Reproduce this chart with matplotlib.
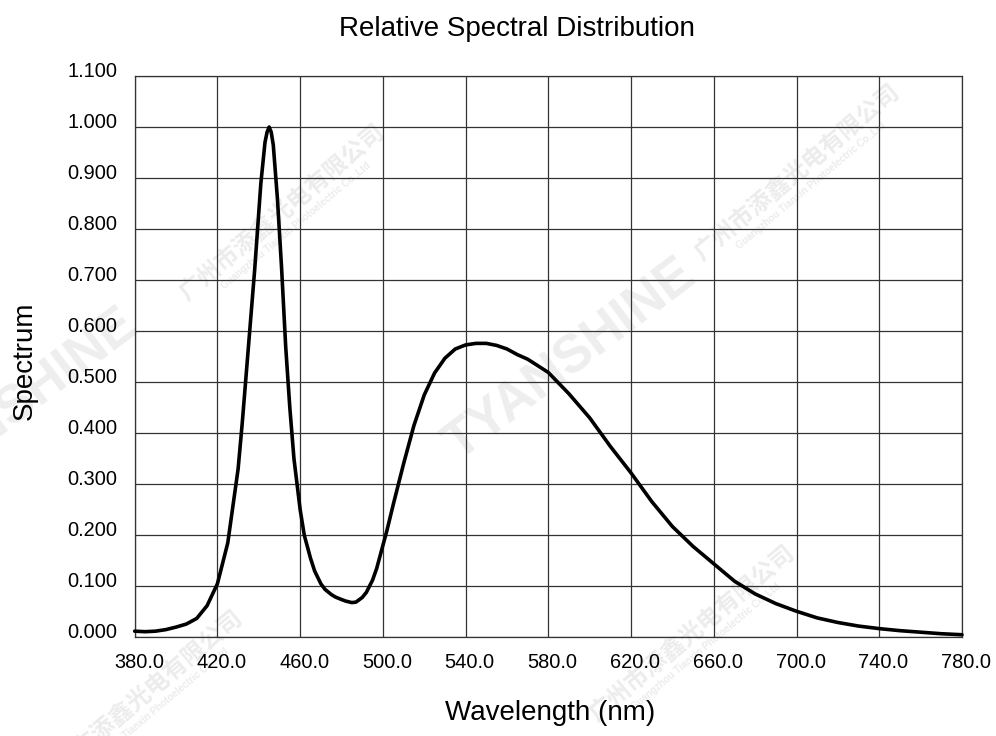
import matplotlib
matplotlib.use("Agg")
import matplotlib.pyplot as plt
from matplotlib.transforms import ScaledTranslation

# ---- data ----
wavelength = [380, 385, 390, 395, 400, 405, 410, 415, 420, 425, 430, 432, 435, 438,
              441, 443, 444, 445, 446, 447, 449, 451, 453, 455, 457, 460, 462, 465,
              467, 470, 472, 475, 477, 480, 482, 485, 487, 490, 492, 495, 497, 500,
              502, 505, 510, 515, 520, 525, 530, 535, 540, 545, 550, 555, 560, 565,
              570, 575, 580, 590, 600, 610, 620, 630, 640, 650, 660, 670, 680, 690,
              700, 710, 720, 730, 740, 750, 760, 770, 780]
spectrum = [0.012, 0.011, 0.012, 0.015, 0.020, 0.026, 0.037, 0.062, 0.105, 0.185,
            0.330, 0.420, 0.570, 0.720, 0.890, 0.970, 0.990, 1.000, 0.990, 0.965,
            0.860, 0.725, 0.570, 0.450, 0.350, 0.250, 0.200, 0.155, 0.130, 0.105,
            0.094, 0.084, 0.079, 0.074, 0.071, 0.068, 0.069, 0.078, 0.088, 0.112,
            0.135, 0.180, 0.210, 0.260, 0.340, 0.415, 0.475, 0.518, 0.547, 0.565,
            0.573, 0.576, 0.576, 0.572, 0.565, 0.554, 0.545, 0.532, 0.519, 0.477,
            0.430, 0.374, 0.322, 0.266, 0.217, 0.178, 0.144, 0.110, 0.085, 0.066,
            0.051, 0.038, 0.029, 0.022, 0.017, 0.013, 0.010, 0.007, 0.005]
x_ticks = [380, 420, 460, 500, 540, 580, 620, 660, 700, 740, 780]
y_ticks = [0.0, 0.1, 0.2, 0.3, 0.4, 0.5, 0.6, 0.7, 0.8, 0.9, 1.0, 1.1]
title = "Relative Spectral Distribution"
x_label = "Wavelength (nm)"
y_label = "Spectrum"
wm_brand = "TYANSHINE"
wm_cn = "广州市添鑫光电有限公司"
wm_en = "Guangzhou Tianxin Photoelectric Co.,Ltd"

W, H = 996, 736
plt.rcParams['font.family'] = ['Liberation Sans', 'DejaVu Sans']
fig = plt.figure(figsize=(W / 100, H / 100), dpi=100)
ax = fig.add_axes([134.7 / W, 1 - 637.3 / H, (962 - 134.7) / W, (637.3 - 76) / H])
ax.set_zorder(1)
ax.patch.set_alpha(0)

def px(x, y):
    return x / W, 1 - y / H

# ---- faint watermarks behind the chart ----
for cx, cy in [(570, 360), (12, 410)]:
    fig.text(*px(cx, cy), wm_brand, fontsize=38, fontweight='bold', color='#eeeeee',
             rotation=37, ha='center', va='center', rotation_mode='anchor', zorder=-5)
for cx, cy in [(797, 172), (282, 212), (692, 633), (140, 698)]:
    fig.text(*px(cx, cy), wm_cn, fontsize=17, fontweight='bold', color='#ececec',
             family=['Noto Sans CJK SC', 'DejaVu Sans'],
             rotation=40, ha='center', va='center', rotation_mode='anchor', zorder=-5)
    fig.text(*px(cx + 14, cy + 14), wm_en, fontsize=7, fontweight='bold', color='#ececec',
             rotation=40, ha='center', va='center', rotation_mode='anchor', zorder=-5)

# ---- curve ----
ax.plot(wavelength, spectrum, color='black', lw=2.6, solid_joinstyle='round',
        solid_capstyle='round', zorder=3, clip_on=False)

ax.set_xlim(380, 780)
ax.set_ylim(0, 1.1)
ax.set_xticks(x_ticks)
ax.set_yticks(y_ticks)
ax.set_xticklabels([f"{v:.1f}" for v in x_ticks])
ax.set_yticklabels([f"{v:.3f}" for v in y_ticks])
ax.grid(True, color='#333333', lw=0.9)
ax.set_axisbelow(True)
for s in ax.spines.values():
    s.set_color('#333333')
    s.set_linewidth(0.9)
ax.tick_params(axis='both', length=0, labelsize=14.4, colors='black')
ax.tick_params(axis='x', pad=11)
ax.tick_params(axis='y', pad=12.5)

for lab in ax.get_yticklabels():
    lab.set_transform(lab.get_transform() + ScaledTranslation(0, 5 / 72, fig.dpi_scale_trans))
for lab in ax.get_xticklabels():
    lab.set_transform(lab.get_transform() + ScaledTranslation(3 / 72, 0, fig.dpi_scale_trans))

fig.text(*px(517, 36), title, fontsize=20, ha='center', va='baseline', zorder=2)
fig.text(*px(550, 720), x_label, fontsize=20, ha='center', va='baseline', zorder=2)
fig.text(*px(25, 361), y_label, fontsize=20, ha='center', va='center', rotation=90, zorder=2)

fig.savefig('out.png', dpi=100, facecolor='white')
